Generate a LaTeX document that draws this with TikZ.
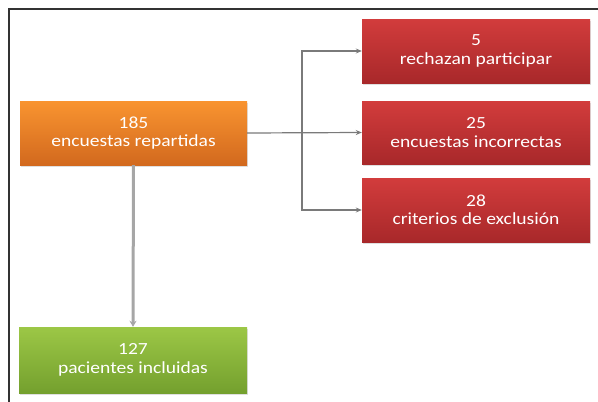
\documentclass[tikz,border=0pt]{standalone}
\usepackage{fontspec}
\setmainfont{Carlito}[FakeStretch=1.15]
\usetikzlibrary{arrows.meta,shadows}
\definecolor{orTop}{HTML}{F99430}
\definecolor{orBot}{HTML}{D2691E}
\definecolor{rdTop}{HTML}{D23C3C}
\definecolor{rdBot}{HTML}{A8282A}
\definecolor{grTop}{HTML}{9CC746}
\definecolor{grBot}{HTML}{74A02E}
\definecolor{lineGray}{HTML}{7A7A7A}
\tikzset{
  box/.style={rectangle, minimum width=228pt, minimum height=64pt, inner sep=0pt,
    align=center, text=white, font=\fontsize{17}{18.5}\selectfont,
    drop shadow={shadow xshift=1pt, shadow yshift=-1.5pt, opacity=0.25}},
  orbox/.style={box, top color=orTop, bottom color=orBot},
  rdbox/.style={box, top color=rdTop, bottom color=rdBot},
  grbox/.style={box, top color=grTop, bottom color=grBot},
  conn/.style={draw=lineGray, line width=1.2pt, -{Stealth[length=6pt,width=5pt]}},
  thick conn/.style={draw=gray!70, line width=3pt, -{Stealth[length=6pt,width=7pt]}}
}
\begin{document}
\begin{tikzpicture}[x=1pt,y=-1pt]
\useasboundingbox (0,0) rectangle (598,402);
\draw[line width=1.5pt, draw=black!80] (9,402) -- (9,9) -- (598,9);
\node[orbox, minimum width=227pt] (enc) at (133.5,133) {185\\encuestas repartidas};
\node[grbox, minimum height=66pt] (pac) at (133,360) {127\\pacientes incluidas};
\node[rdbox] (r1) at (476,51) {5\\rechazan participar};
\node[rdbox, minimum height=63pt] (r2) at (476,132.5) {25\\encuestas incorrectas};
\node[rdbox] (r3) at (476,210) {28\\criterios de exclusión};
\coordinate (br) at (302,133);
\draw[conn] (enc.east) -- (r2.west);
\draw[conn] (br) |- (r1.west);
\draw[conn] (br) |- (r3.west);
\draw[thick conn] (enc.south) -- (pac.north);
\end{tikzpicture}
\end{document}
